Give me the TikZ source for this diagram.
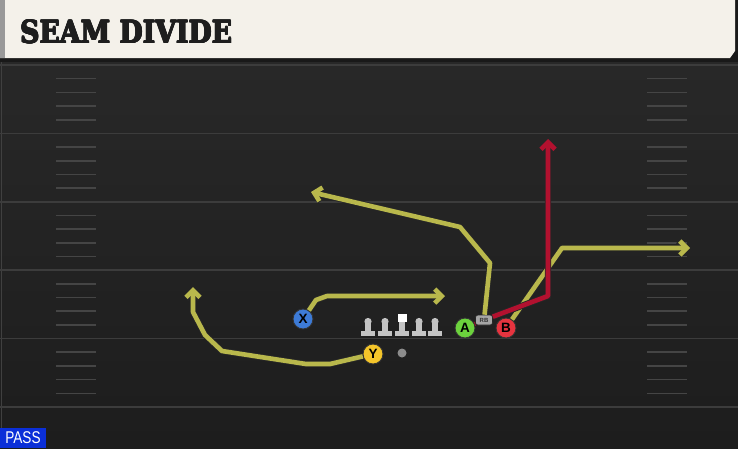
\documentclass[tikz,border=0pt]{standalone}
\usepackage{fontspec}
\usepackage{graphicx}
\usepackage{tikz}
\usetikzlibrary{arrows.meta,positioning}
\newfontfamily\titlefont{DejaVu Serif Condensed}
\newfontfamily\labelfont{Liberation Sans}
\newcommand{\playtitle}{\resizebox{212pt}{23pt}{\titlefont\bfseries SEAM DIVIDE}}

\definecolor{paper}{HTML}{F4F1EA}
\definecolor{titlecol}{HTML}{1E1E1E}
\definecolor{fieldtop}{HTML}{282828}
\definecolor{fieldbot}{HTML}{1D1D1D}
\definecolor{yardcol}{HTML}{3C3C3C}
\definecolor{hashcol}{HTML}{454545}
\definecolor{routecol}{HTML}{B9B84C}
\definecolor{hotcol}{HTML}{B2112F}
\definecolor{xblue}{HTML}{3D7BD7}
\definecolor{ygold}{HTML}{F4C52A}
\definecolor{agreen}{HTML}{6CD23D}
\definecolor{bred}{HTML}{E6343F}
\definecolor{passblue}{HTML}{0B2FD8}
\definecolor{linecol}{HTML}{C4C4C4}

\begin{document}
\begin{tikzpicture}[x=1pt, y=-1pt,
    player/.style={circle, draw=black!80, line width=0.9pt, minimum size=20pt, inner sep=0pt,
      font=\labelfont\bfseries\fontsize{13.5}{13.5}\selectfont},
    run/.style={draw=routecol, line width=4.6pt, line join=round,
      preaction={draw=black!85, line width=6.4pt}},
    hot/.style={run, draw=hotcol},
    arrowed/.style={-{Straight Barb[length=7pt, width=14pt]}},
    yard/.style={draw=yardcol, line width=1.5pt},
    hashmark/.style={draw=hashcol, line width=1.6pt},
    titletext/.style={anchor=base west, inner sep=0pt, text=titlecol}]
    \useasboundingbox (0,0) rectangle (738,448);
    \fill[black!90] (0,0) rectangle (738,448);
    \shade[top color=fieldtop, bottom color=fieldbot] (0,62) rectangle (738,448);
    \draw[black!75, line width=1pt] (1,62) -- (1,448);
    \foreach \i in {0,...,5}
        \draw[yard] (0,65+68.4*\i) -- (738,65+68.4*\i);
    \foreach \i in {0,...,4}
        \foreach \k in {1,...,4} {
            \draw[hashmark] (56,65+68.4*\i+13.68*\k) -- (96,65+68.4*\i+13.68*\k);
            \draw[hashmark] (647,65+68.4*\i+13.68*\k) -- (687,65+68.4*\i+13.68*\k);
        }

    % header
    \fill[paper] (0,0) -- (735,0) -- (735,51) -- (730,58) -- (0,58) -- cycle;
    \fill[black!40] (0,0) rectangle (5,58);
    \foreach \dx/\dy in {-0.6/0, 0.6/0, 0/-0.6, 0/0.6, -0.45/-0.45, 0.45/0.45, -0.45/0.45, 0.45/-0.45}
        \node[titletext] at (20+\dx,43+\dy) {\playtitle};
    \node[titletext] (T) at (20,43) {\playtitle};

    % line
    \foreach \x in {368,385,419,435} {
        \fill[linecol] (\x,321.5) circle (3.6);
        \fill[linecol] (\x-2.6,322) rectangle (\x+2.6,331);
        \fill[linecol] (\x-7,330.5) rectangle (\x+7,335.5);
    }
    \fill[white] (397.5,313.5) rectangle (406.5,322);
    \fill[linecol] (399.4,322) rectangle (404.6,331);
    \fill[linecol] (395,330.5) rectangle (409,335.5);
    \node[circle, fill=black!45, minimum size=9pt, inner sep=0pt] (QB) at (402,353) {};

    % players
    \node[player, fill=xblue] (X) at (303,319) {X};
    \node[player, fill=ygold] (Y) at (373,354) {Y};
    \node[player, fill=agreen] (A) at (465,328) {A};
    \node[player, fill=bred] (B) at (506,328) {B};
    \node[rounded corners=2.5pt, draw=black!85, fill=black!35, line width=0.6pt,
        minimum width=17pt, minimum height=10pt, inner sep=0pt,
        font=\labelfont\bfseries\fontsize{6}{6}\selectfont, text=black!80] (RB) at (484,320) {RB};

    % routes
    \coordinate (XT) at (445,296);
    \coordinate (YT) at (193,287);
    \coordinate (RT) at (311,192);
    \coordinate (BT) at (690,248);
    \coordinate (AT) at (548,139);
    \draw[run, arrowed] (X) -- (316,300) -- (327,296) -- (XT);
    \draw[run, arrowed] (Y) -- (330,364) -- (306,364) -- (222,351) -- (205,335)
        -- (193,312) -- (YT);
    \draw[run, arrowed] (RB) -- (490,263) -- (460,227) -- (RT);
    \draw[run, arrowed] (B) -- (562,248) -- (BT);
    \draw[hot] (A) -- (RB);
    \draw[hot, arrowed] (RB) -- (548,296) -- (AT);

    % play type
    \fill[passblue] (0,428) rectangle (46,448);
    \node[text=white, inner sep=0pt, font=\labelfont\fontsize{17}{17}\selectfont] (P) at (23,438)
        {\scalebox{0.8}[1]{PASS}};
\end{tikzpicture}
\end{document}
